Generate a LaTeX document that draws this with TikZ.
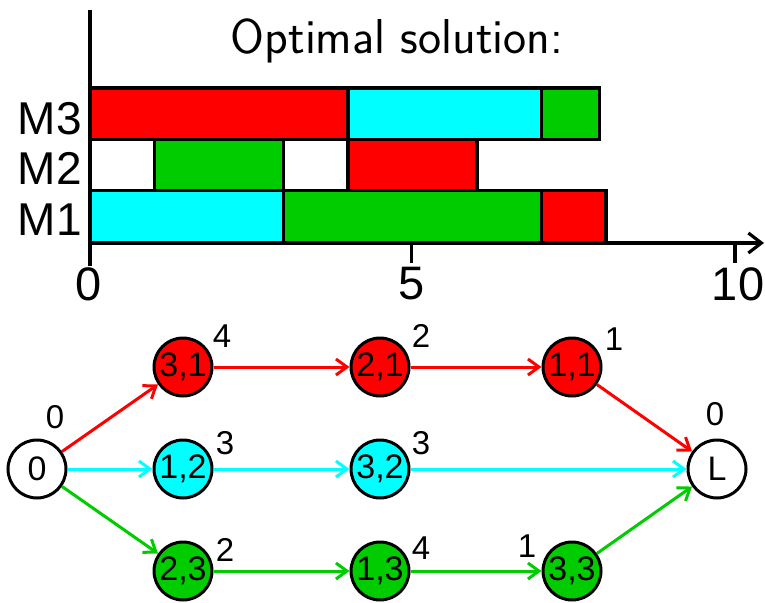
\documentclass[tikz,border=0pt]{standalone}
\usepackage{fontspec}
\newfontfamily\hv{Liberation Sans}
\usetikzlibrary{arrows.meta}
\definecolor{gred}{RGB}{255,0,0}
\definecolor{gcyan}{RGB}{0,255,255}
\definecolor{ggreen}{RGB}{0,204,0}
\begin{document}
\begin{tikzpicture}[x=1pt,y=-1pt,
  bar/.style={draw=black,line width=3.8pt},
  axis/.style={line width=3.2pt,draw=black},
  job/.style={circle,draw=black,line width=3pt,minimum size=58pt,inner sep=0pt,
    font=\hv\fontsize{34}{34}\selectfont},
  lbl/.style={font=\hv\fontsize{33}{33}\selectfont,inner sep=0pt},
  mlbl/.style={font=\hv\fontsize{46}{46}\selectfont,inner sep=0pt,anchor=east},
  tlbl/.style={font=\hv\fontsize{47}{47}\selectfont,inner sep=0pt,anchor=north},
  arc/.style={line width=3pt,-{Straight Barb[length=11pt,width=16pt]}},
]
\useasboundingbox (0,0) rectangle (765,602);
% ---------- Gantt chart ----------
% M3
\draw[bar,fill=gred]   (90,88) rectangle (348,139.5);
\draw[bar,fill=gcyan]  (348,88) rectangle (541.5,139.5);
\draw[bar,fill=ggreen] (541.5,88) rectangle (599.5,139.5);
% M2
\draw[bar,fill=ggreen] (154.5,139.5) rectangle (283.5,190.5);
\draw[bar,fill=gred]   (348,139.5) rectangle (477,190.5);
% M1
\draw[bar,fill=gcyan]  (90,190.5) rectangle (283.5,242.5);
\draw[bar,fill=ggreen] (283.5,190.5) rectangle (541.5,242.5);
\draw[bar,fill=gred]   (541.5,190.5) rectangle (606,242.5);
% axes
\coordinate (ytop) at (90,10);
\coordinate (ybot) at (90,266);
\coordinate (xorg) at (90,243);
\coordinate (xend) at (764,243);
\draw[axis] (ytop) -- (ybot);
\draw[axis,-{Straight Barb[length=13pt,width=20pt]}] (xorg) -- (xend);
\coordinate (t5a) at (411.5,243);
\coordinate (t5b) at (411.5,263);
\coordinate (t10a) at (735,243);
\coordinate (t10b) at (735,263);
\draw[axis] (t5a) -- (t5b);
\draw[axis] (t10a) -- (t10b);
\node[tlbl] (l0) at (89,267) {0};
\node[tlbl] (l5) at (412,267) {5};
\node[tlbl] (l10) at (738,267) {10};
\node[mlbl] (m3) at (82,118.5) {M3};
\node[mlbl] (m2) at (82,168) {M2};
\node[mlbl] (m1) at (82,220) {M1};
\node[font=\sffamily\fontsize{49}{49}\selectfont,inner sep=0pt,anchor=base] (title) at (397,53) {Optimal solution:};
% ---------- Graph ----------
\node[job] (s) at (37,469) {0};
\node[job,fill=gred] (n31) at (183,367) {3,1};
\node[job,fill=gred] (n21) at (380,367) {2,1};
\node[job,fill=gred] (n11) at (572,367) {1,1};
\node[job,fill=gcyan] (n12) at (183,469) {1,2};
\node[job,fill=gcyan] (n32) at (380,469) {3,2};
\node[job,fill=ggreen] (n23) at (183,571) {2,3};
\node[job,fill=ggreen] (n13) at (380,571) {1,3};
\node[job,fill=ggreen] (n33) at (572,571) {3,3};
\node[job] (L) at (717,469) {L};
% labels
\node[lbl] (w0) at (55,417) {0};
\node[lbl] (w31) at (222,336) {4};
\node[lbl] (w12) at (225,443) {3};
\node[lbl] (w23) at (225,550) {2};
\node[lbl] (w21) at (421,336) {2};
\node[lbl] (w32) at (421,443) {3};
\node[lbl] (w13) at (421,548) {4};
\node[lbl] (w11) at (614,339) {1};
\node[lbl] (w33) at (527,546) {1};
\node[lbl] (wL) at (715,414) {0};
% edges
\draw[arc,gred] (s) -- (n31);
\draw[arc,gred] (n31) -- (n21);
\draw[arc,gred] (n21) -- (n11);
\draw[arc,gred] (n11) -- (L);
\draw[arc,gcyan] (s) -- (n12);
\draw[arc,gcyan] (n12) -- (n32);
\draw[arc,gcyan] (n32) -- (L);
\draw[arc,ggreen] (s) -- (n23);
\draw[arc,ggreen] (n23) -- (n13);
\draw[arc,ggreen] (n13) -- (n33);
\draw[arc,ggreen] (n33) -- (L);
\end{tikzpicture}
\end{document}
